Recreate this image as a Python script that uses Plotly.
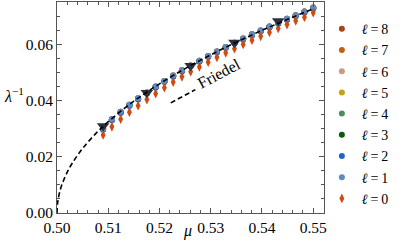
import plotly.graph_objects as go

mu = [0.50900, 0.51071, 0.51242, 0.51413, 0.51583, 0.51754, 0.51925, 0.52096, 0.52267,
      0.52438, 0.52608, 0.52779, 0.52950, 0.53121, 0.53292, 0.53463, 0.53633, 0.53804,
      0.53975, 0.54146, 0.54317, 0.54488, 0.54658, 0.54829, 0.55000]

l1 = [0.0300, 0.0334, 0.0360, 0.0385, 0.0408, 0.0429, 0.0450, 0.0470, 0.0489, 0.0508,
      0.0525, 0.0542, 0.0559, 0.0575, 0.0591, 0.0606, 0.0621, 0.0636, 0.0650, 0.0664,
      0.0678, 0.0691, 0.0704, 0.0717, 0.0731]
l2 = [0.0296, 0.0330, 0.0356, 0.0381, 0.0404, 0.0425, 0.0446, 0.0466, 0.0485, 0.0504,
      0.0521, 0.0538, 0.0555, 0.0571, 0.0587, 0.0602, 0.0617, 0.0632, 0.0646, 0.0660,
      0.0674, 0.0687, 0.0700, 0.0713, 0.0727]
l3 = [0.0298, 0.0332, 0.0358, 0.0383, 0.0406, 0.0427, 0.0448, 0.0468, 0.0487, 0.0506,
      0.0523, 0.0540, 0.0557, 0.0573, 0.0589, 0.0604, 0.0619, 0.0634, 0.0648, 0.0662,
      0.0676, 0.0689, 0.0702, 0.0715, 0.0729]
l4 = [0.0299, 0.0333, 0.0359, 0.0384, 0.0407, 0.0428, 0.0449, 0.0469, 0.0488, 0.0507,
      0.0524, 0.0541, 0.0558, 0.0574, 0.0590, 0.0605, 0.0620, 0.0635, 0.0649, 0.0663,
      0.0677, 0.0690, 0.0703, 0.0716, 0.0730]
l5 = l4
l6 = l1
l7 = l1
l8 = l1
l0 = [0.0278, 0.0307, 0.0334, 0.0359, 0.0382, 0.0404, 0.0425, 0.0446, 0.0466, 0.0485,
      0.0503, 0.0520, 0.0537, 0.0554, 0.0570, 0.0585, 0.0600, 0.0615, 0.0629, 0.0643,
      0.0657, 0.0671, 0.0684, 0.0697, 0.0713]
l0_err = [0.0010] * 25

mu_tri = [0.50900, 0.51754, 0.52608, 0.53463, 0.54317]
lam_tri = [0.0310, 0.0428, 0.0524, 0.0607, 0.0683]

mu_fit = [0.5, 0.5001, 0.5002, 0.5005, 0.501, 0.502, 0.503, 0.505, 0.5075, 0.51, 0.515,
          0.52, 0.525, 0.53, 0.535, 0.54, 0.545, 0.55]
lam_fit = [0.0, 0.00325, 0.00460, 0.00727, 0.01028, 0.01453, 0.01780, 0.02298, 0.02815,
           0.03250, 0.03980, 0.04596, 0.05139, 0.05629, 0.06080, 0.06500, 0.06894, 0.07267]

mu_friedel = [0.5222, 0.5270]
lam_friedel = [0.0392, 0.0439]

labels = ["8", "7", "6", "5", "4", "3", "2", "1"]
series = [l8, l7, l6, l5, l4, l3, l2, l1]
colors = ["#a8441a", "#c4600e", "#c99a84", "#c8a214", "#4e8c5e", "#0b5a12", "#2162c8", "#6289c0"]

SERIF = "Liberation Serif"
fig = go.Figure()
for lab, ys, c in zip(labels, series, colors):
    fig.add_trace(go.Scatter(x=mu, y=ys, mode="markers", name=f"<i>ℓ</i>\u2009=\u2009{lab}",
                             marker=dict(color=c, size=6, line=dict(width=0))))
fig.add_trace(go.Scatter(x=mu, y=l0, mode="markers", name="<i>ℓ</i>\u2009=\u20090",
                         marker=dict(color="#d04b12", size=7, symbol="diamond-tall", line=dict(width=0)),
                         error_y=dict(type="data", array=l0_err, color="#d04b12", thickness=1.2, width=0)))
fig.add_trace(go.Scatter(x=mu_tri, y=lam_tri, mode="markers", showlegend=False,
                         marker=dict(color="#2b303a", size=11, symbol="triangle-down", line=dict(width=0))))
fig.add_trace(go.Scatter(x=mu_fit, y=lam_fit, mode="lines", showlegend=False, line_shape="spline",
                         line=dict(color="black", width=1.6, dash="5px,3px")))
fig.add_trace(go.Scatter(x=mu_friedel, y=lam_friedel, mode="lines", showlegend=False,
                         line=dict(color="black", width=1.6, dash="5px,3px")))

fig.add_annotation(x=0.5316, y=0.0497, text="Friedel", showarrow=False, textangle=-28,
                   font=dict(family=SERIF, size=16, color="black"))
fig.add_annotation(xref="paper", yref="paper", x=0, xanchor="left", xshift=-55, y=0.56,
                   text="<i>λ</i><sup>−1</sup>",
                   showarrow=False, font=dict(family=SERIF, size=16, color="black"))
fig.add_annotation(xref="paper", yref="paper", x=0.49, y=-0.086, text="<i>μ</i>",
                   showarrow=False, yanchor="middle", font=dict(family=SERIF, size=16, color="black"))

axis_common = dict(showline=True, linecolor="#555", linewidth=1, mirror="allticks",
                   ticks="inside", ticklen=5, tickwidth=1, tickcolor="#555",
                   showgrid=False, zeroline=False, automargin=False,
                   tickfont=dict(family=SERIF, size=15.5, color="black"))
fig.update_xaxes(range=[0.5, 0.5521], tickvals=[0.50, 0.51, 0.52, 0.53, 0.54, 0.55],
                 tickformat=".2f",
                 minor=dict(dtick=0.002, tick0=0.5, ticks="inside", ticklen=3, tickcolor="#555"),
                 **axis_common)
fig.update_yaxes(range=[0, 0.0751], tickvals=[0.0, 0.02, 0.04, 0.06], tickformat=".2f",
                 minor=dict(dtick=0.005, tick0=0, ticks="inside", ticklen=3, tickcolor="#555"),
                 **axis_common)

fig.update_layout(width=405, height=251, margin=dict(l=57, r=81, t=2, b=38),
                  paper_bgcolor="white", plot_bgcolor="white",
                  legend=dict(x=0.992, xanchor="left", y=0.947, yanchor="top",
                              font=dict(family=SERIF, size=14, color="black"),
                              itemwidth=30, bgcolor="rgba(0,0,0,0)"),
                  showlegend=True)
fig.write_html("out.html", config={"displayModeBar": False},
               post_script="document.body.style.margin='0px';document.body.style.padding='0px';")
